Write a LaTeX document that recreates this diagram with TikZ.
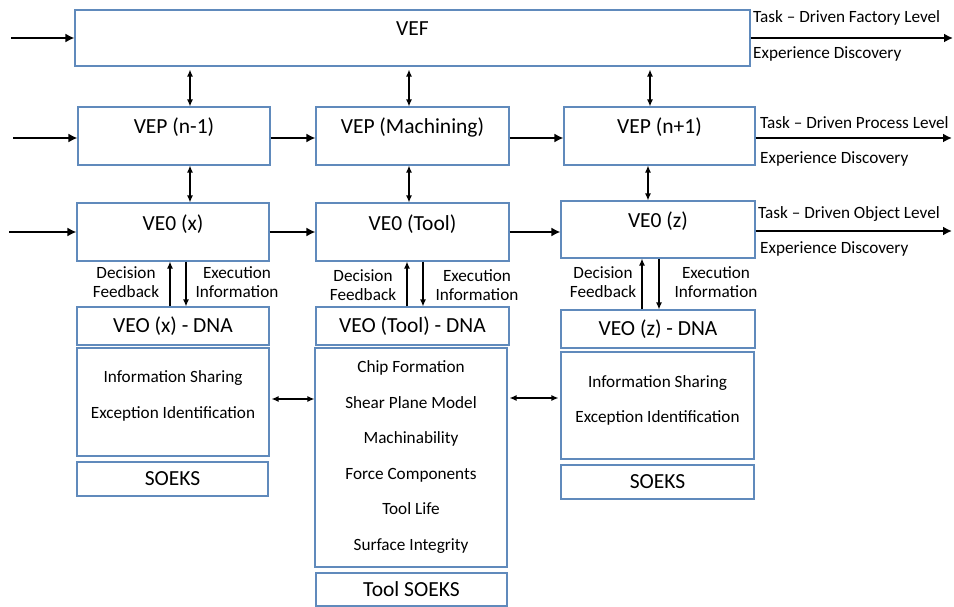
\documentclass[tikz,border=0pt]{standalone}
\usepackage{fontspec}
\setmainfont{Carlito}
\usetikzlibrary{arrows.meta}
\definecolor{boxblue}{RGB}{96,138,188}

\begin{document}
\begin{tikzpicture}[x=1pt, y=-1pt,
    main/.style = {draw=boxblue, line width=1.1pt, inner sep=0pt, font=\fontsize{21.5}{25}\selectfont},
    up/.style = {text height=13pt, text depth=17pt},
    info/.style = {main, font=\fontsize{17.2}{35.5}\selectfont},
    small/.style = {inner sep=0pt, align=center, font=\fontsize{17.2}{19}\selectfont},
    flow/.style = {line width=2.6pt, -{Latex[length=9pt, width=9pt]}},
    dbl/.style = {line width=1.2pt, {Latex[length=7pt, width=6pt]}-{Latex[length=7pt, width=6pt]}},
    fb/.style = {line width=1.2pt, -{Latex[length=7pt, width=6pt]}}]
    \useasboundingbox (0,0) rectangle (954,607);
    \node[main, up, minimum width=675pt, minimum height=56pt] (vef) at (412.5,38) {VEF};
    \node[main, up, minimum width=192pt, minimum height=58pt] (vep1) at (174,136) {VEP (n-1)};
    \node[main, up, minimum width=193pt, minimum height=58pt] (vepm) at (412.5,136) {VEP (Machining)};
    \node[main, up, minimum width=191pt, minimum height=58pt] (vep2) at (659.5,136) {VEP (n+1)};
    \node[main, up, minimum width=192pt, minimum height=58pt] (veox) at (173,232) {VE0 (x)};
    \node[main, up, minimum width=193pt, minimum height=58pt] (veot) at (412.5,232) {VE0 (Tool)};
    \node[main, up, minimum width=194pt, minimum height=57pt] (veoz) at (658,229.5) {VE0 (z)};
    \node[main, minimum width=192pt, minimum height=38pt] (dnax) at (173,326) {VEO (x) - DNA};
    \node[main, minimum width=193pt, minimum height=38pt] (dnat) at (412.5,326) {VEO (Tool) - DNA};
    \node[main, minimum width=194pt, minimum height=38pt] (dnaz) at (658,329) {VEO (z) - DNA};
    \node[info, text height=0pt, text depth=8.4pt, minimum width=192pt, minimum height=108pt] (infox) at (173,402)
        {\begin{tabular}{@{}c@{}}Information Sharing\\Exception Identification\end{tabular}};
    \node[info, text height=2.6pt, text depth=0pt, minimum width=192pt, minimum height=219pt] (infot) at (411,457.5)
        {\begin{tabular}{@{}c@{}}Chip Formation\\Shear Plane Model\\Machinability\\Force Components\\Tool Life\\Surface Integrity\end{tabular}};
    \node[info, text height=0pt, text depth=6.4pt, minimum width=193pt, minimum height=107pt] (infoz) at (657.5,405.5)
        {\begin{tabular}{@{}c@{}}Information Sharing\\Exception Identification\end{tabular}};
    \node[main, minimum width=191pt, minimum height=34pt] (soeksx) at (172.5,479) {SOEKS};
    \node[main, minimum width=191pt, minimum height=33pt] (soekst) at (411.5,589.5) {Tool SOEKS};
    \node[main, minimum width=193pt, minimum height=34pt] (soeksz) at (657.5,482) {SOEKS};
    \node[small, anchor=west] (taskf) at (753,18) {Task – Driven Factory Level};
    \node[small, anchor=west] (expf) at (753,54) {Experience Discovery};
    \node[small, anchor=west] (taskp) at (760,123) {Task – Driven Process Level};
    \node[small, anchor=west] (expp) at (760,159) {Experience Discovery};
    \node[small, anchor=west] (tasko) at (758,214) {Task – Driven Object Level};
    \node[small, anchor=west] (expo) at (760,249) {Experience Discovery};
    \node[small] (decx) at (126,282) {Decision\\Feedback};
    \node[small] (exex) at (237,282) {Execution\\Information};
    \node[small] (dect) at (363,285) {Decision\\Feedback};
    \node[small] (exet) at (477,285) {Execution\\Information};
    \node[small] (decz) at (603,282) {Decision\\Feedback};
    \node[small] (exez) at (716,282) {Execution\\Information};
    \coordinate (inf) at (11,38);
    \coordinate (outf) at (953,38);
    \coordinate (inp) at (13,138);
    \coordinate (outp) at (952,138);
    \coordinate (ino) at (9,232);
    \coordinate (outo) at (952,231);
    \draw[flow] (inf) -- (vef.west);
    \draw[flow] (vef.east) -- (outf);
    \draw[flow] (inp) -- (inp -| vep1.west);
    \draw[flow] (vep1.east |- inp) -- (vepm.west |- inp);
    \draw[flow] (vepm.east |- inp) -- (vep2.west |- inp);
    \draw[flow] (vep2.east |- outp) -- (outp);
    \draw[flow] (ino) -- (veox.west);
    \draw[flow] (veox.east) -- (veot.west);
    \draw[flow] (veot.east) -- (veot.east -| veoz.west);
    \draw[flow] (veoz.east |- outo) -- (outo);
    \draw[dbl] ([xshift=16pt]vep1.north) -- ([xshift=16pt,yshift=-3pt]vep1.north |- vef.south);
    \draw[dbl] ([xshift=-3.5pt]vepm.north) -- ([xshift=-3.5pt,yshift=-3pt]vepm.north |- vef.south);
    \draw[dbl] ([xshift=-9.5pt]vep2.north) -- ([xshift=-9.5pt,yshift=-3pt]vep2.north |- vef.south);
    \draw[dbl] ([xshift=16pt]vep1.south) -- ([xshift=16pt]vep1.south |- veox.north);
    \draw[dbl] ([xshift=-3.5pt]vepm.south) -- ([xshift=-3.5pt]vepm.south |- veot.north);
    \draw[dbl] ([xshift=-11.5pt]vep2.south) -- ([xshift=-11.5pt]vep2.south |- veoz.north);
    \draw[fb] ([xshift=-3pt]dnax.north) -- ([xshift=-3pt]veox.south);
    \draw[fb] ([xshift=13pt]veox.south) -- ([xshift=13pt]dnax.north);
    \draw[fb] ([xshift=-5.5pt]dnat.north) -- ([xshift=-5.5pt]veot.south);
    \draw[fb] ([xshift=10.5pt]veot.south) -- ([xshift=10.5pt]dnat.north);
    \draw[fb] ([xshift=-16pt]dnaz.north) -- ([xshift=-16pt]veoz.south);
    \draw[fb] ([xshift=1pt]veoz.south) -- ([xshift=1pt]dnaz.north);
    \draw[dbl, shorten <=2pt] ([yshift=3pt]infox.east) -- ([yshift=3pt]infox.east -| infot.west);
    \draw[dbl, shorten >=2pt, shorten <=2pt] ([yshift=7.5pt]infoz.west) -- ([yshift=7.5pt]infoz.west -| infot.east);
\end{tikzpicture}
\end{document}
